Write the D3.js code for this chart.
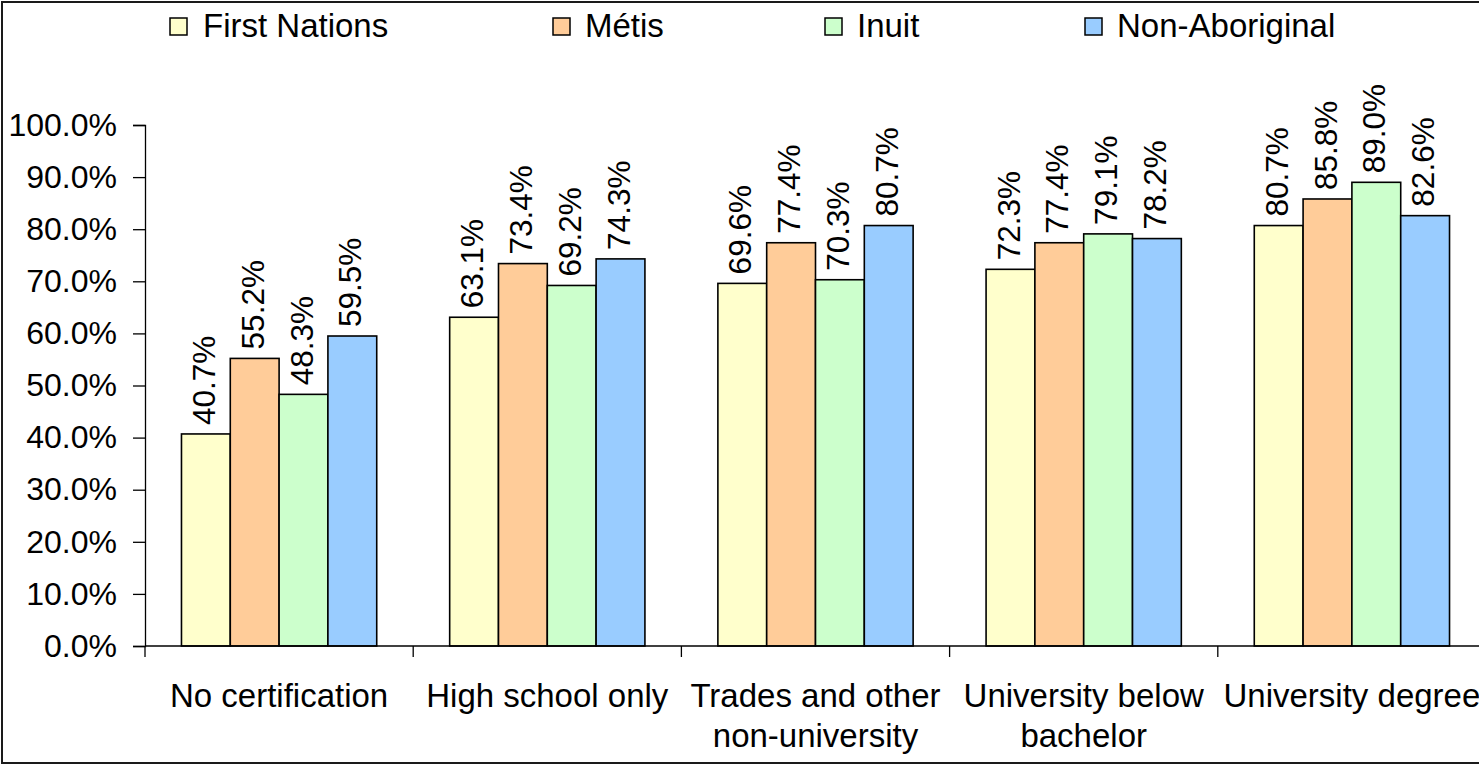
<!DOCTYPE html>
<html>
<head>
<meta charset="utf-8">
<script src="https://cdn.jsdelivr.net/npm/d3@7/dist/d3.min.js"></script>
<style>
  html, body { margin: 0; padding: 0; background: #fff; }
  svg { display: block; }
  text { font-family: "Liberation Sans", Arial, sans-serif; fill: #000; }
</style>
</head>
<body>
<svg id="chart" width="1479" height="765"></svg>
<script>
// Employment rates by highest level of schooling and identity group
const categories = [
  ["No certification"],
  ["High school only"],
  ["Trades and other", "non-university"],
  ["University below", "bachelor"],
  ["University degree"]
];
const seriesNames = ["First Nations", "Métis", "Inuit", "Non-Aboriginal"];
const seriesColors = ["#FFFFCC", "#FFCC99", "#CCFFCC", "#99CCFF"];
const firstNations  = [40.7, 63.1, 69.6, 72.3, 80.7];
const metis         = [55.2, 73.4, 77.4, 77.4, 85.8];
const inuit         = [48.3, 69.2, 70.3, 79.1, 89.0];
const nonAboriginal = [59.5, 74.3, 80.7, 78.2, 82.6];
const yTicks = [0, 10, 20, 30, 40, 50, 60, 70, 80, 90, 100];

const seriesValues = [firstNations, metis, inuit, nonAboriginal];
const svg = d3.select("#chart");
const W = 1479, H = 765;
const TICK_FONT = 32, LABEL_FONT = 33, VALUE_FONT = 31.5;

// outer frame (the right edge runs past the canvas)
svg.append("rect")
  .attr("x", 2).attr("y", 2)
  .attr("width", W + 20).attr("height", 761)
  .attr("fill", "none").attr("stroke", "#1a1a1a").attr("stroke-width", 2);

const plot = { left: 145, right: 1486, top: 125, bottom: 646 };
const catKeys = categories.map((c, i) => i);

const x = d3.scaleBand().domain(catKeys).range([plot.left, plot.right]).padding(0);
const bw = x.bandwidth();
const xInner = d3.scaleBand().domain(d3.range(seriesNames.length))
  .range([bw * 0.136, bw * 0.864]).padding(0);
const y = d3.scaleLinear().domain([0, 100]).range([plot.bottom, plot.top]);

// y axis
const yAxis = d3.axisLeft(y).tickValues(yTicks)
  .tickFormat(d => d3.format(".1f")(d) + "%")
  .tickSize(12).tickPadding(16);
const gy = svg.append("g").attr("transform", `translate(${plot.left},0)`).call(yAxis);
gy.select(".domain").attr("stroke", "#000").attr("stroke-width", 1.3);
gy.selectAll(".tick line").attr("stroke", "#000").attr("stroke-width", 1.3);
gy.selectAll(".tick text").attr("font-size", TICK_FONT).attr("fill", "#000")
  .attr("font-family", '"Liberation Sans", Arial, sans-serif');

// bars
const groups = svg.append("g").selectAll("g.cat")
  .data(catKeys).join("g")
  .attr("class", "cat")
  .attr("transform", d => `translate(${x(d)},0)`);

groups.selectAll("rect")
  .data(ci => seriesValues.map((vals, si) => ({ si, v: vals[ci] })))
  .join("rect")
  .attr("x", d => xInner(d.si))
  .attr("y", d => y(d.v))
  .attr("width", xInner.bandwidth())
  .attr("height", d => y(0) - y(d.v))
  .attr("fill", d => seriesColors[d.si])
  .attr("stroke", "#000").attr("stroke-width", 1.6);

// value labels, rotated
groups.selectAll("text.val")
  .data(ci => seriesValues.map((vals, si) => ({ si, v: vals[ci] })))
  .join("text")
  .attr("class", "val")
  .attr("transform", d => `translate(${xInner(d.si) + xInner.bandwidth() / 2 - 2},${y(d.v) - 9}) rotate(-90)`)
  .attr("dy", "0.35em")
  .attr("font-size", VALUE_FONT)
  .text(d => d.v.toFixed(1) + "%");

// x axis line and boundary ticks
svg.append("line")
  .attr("x1", plot.left).attr("x2", plot.right)
  .attr("y1", plot.bottom).attr("y2", plot.bottom)
  .attr("stroke", "#000").attr("stroke-width", 1.3);
svg.append("g").selectAll("line")
  .data(catKeys.concat([catKeys.length]))
  .join("line")
  .attr("x1", d => plot.left + d * bw).attr("x2", d => plot.left + d * bw)
  .attr("y1", plot.bottom).attr("y2", plot.bottom + 11)
  .attr("stroke", "#000").attr("stroke-width", 1.3);

// category labels
const catText = svg.append("g").selectAll("text")
  .data(catKeys).join("text")
  .attr("text-anchor", "middle")
  .attr("font-size", LABEL_FONT)
  .attr("x", d => x(d) + bw / 2)
  .attr("y", 707);
catText.selectAll("tspan")
  .data(d => categories[d].map((line, li) => ({ line, li, d })))
  .join("tspan")
  .attr("x", t => x(t.d) + bw / 2)
  .attr("dy", t => t.li === 0 ? 0 : 40)
  .text(t => t.line);

// legend
const legendX = [170, 553, 825, 1085];
const legend = svg.append("g").selectAll("g")
  .data(seriesNames).join("g")
  .attr("transform", (d, i) => `translate(${legendX[i]},18)`);
legend.append("rect")
  .attr("width", 17).attr("height", 17)
  .attr("fill", (d, i) => seriesColors[i])
  .attr("stroke", "#000").attr("stroke-width", 1.5);
legend.append("text")
  .attr("x", (d, i) => i === 0 ? 33 : 32)
  .attr("y", 19)
  .attr("font-size", LABEL_FONT)
  .text(d => d);
</script>
</body>
</html>
